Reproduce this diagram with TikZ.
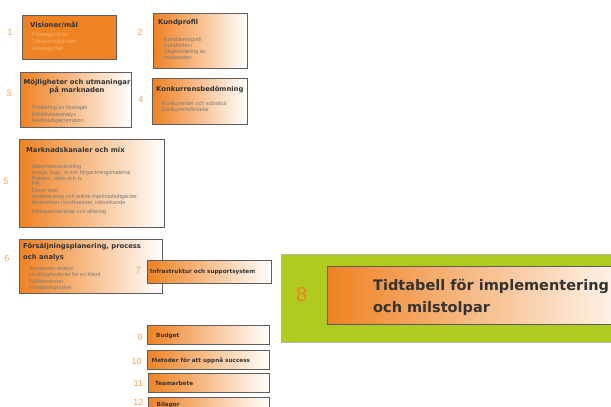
\documentclass[tikz,border=0pt]{standalone}
\usepackage{fontspec}
\setmainfont{Liberation Sans}
\newfontfamily\titlefont{DejaVu Sans}
\usetikzlibrary{positioning}

\definecolor{orng}{HTML}{EF8222}
\definecolor{numorng}{HTML}{F5A455}
\definecolor{peach}{HTML}{F7B77A}
\definecolor{grn}{HTML}{B0CB1F}
\definecolor{frame}{HTML}{5E5E5E}
\definecolor{ttlgray}{HTML}{333333}
\definecolor{itmgray}{HTML}{7A7A7A}

\begin{document}
\begin{tikzpicture}[x=1pt, y=-1pt,
    box/.style={draw=frame, line width=1.1pt, anchor=north west, inner sep=0pt},
    gbox/.style={box, left color=orng, right color=white},
    ttl/.style={font=\titlefont\bfseries\fontsize{6.8}{8}\selectfont, text=ttlgray, anchor=west, inner sep=0pt},
    smallttl/.style={ttl, font=\titlefont\bfseries\fontsize{5.7}{7}\selectfont},
    items/.style={font=\fontsize{5.5}{5.8}\selectfont, text=itmgray, align=left, anchor=north west, inner sep=0pt},
    num/.style={font=\fontsize{9}{9}\selectfont, text=numorng, inner sep=0pt}]
    \clip (0,0) rectangle (611,407);

    % boxes
    \node[box, fill=orng, minimum width=94pt, minimum height=44pt] (vis) at (22,15) {};
    \node[gbox, minimum width=94pt, minimum height=55pt] (kund) at (153,13) {};
    \node[gbox, minimum width=111pt, minimum height=55pt] (moj) at (20,72) {};
    \node[gbox, minimum width=95pt, minimum height=46pt] (konk) at (152,78) {};
    \node[gbox, minimum width=145pt, minimum height=88pt] (kanal) at (19,139) {};
    \node[gbox, minimum width=143pt, minimum height=54pt] (fors) at (19,239) {};
    \node[gbox, minimum width=124pt, minimum height=23pt] (infra) at (147,260) {};

    \node[box, fill=grn, draw=black!30, minimum width=350pt, minimum height=88pt] (gron) at (281,254) {};
    \node[gbox, minimum width=320pt, minimum height=58pt] (tid) at (327,266) {};

    \node[gbox, minimum width=122pt, minimum height=19pt] (budget) at (147,325) {};
    \node[gbox, minimum width=122pt, minimum height=19pt] (metod) at (147,350) {};
    \node[gbox, minimum width=121pt, minimum height=19pt] (team) at (148,373) {};
    \node[gbox, minimum width=121pt, minimum height=19pt] (bilagor) at (148,397) {};

    % titles
    \node[ttl] (visT) at (30,25) {Visioner/mål};
    \node[ttl] (kundT) at (158,22.5) {Kundprofil};
    \node[ttl, anchor=center, align=center] (mojT) at (77,87) {Möjligheter och utmaningar\\på marknaden};
    \node[ttl] (konkT) at (156,90) {Konkurrensbedömning};
    \node[ttl] (kanalT) at (26,150) {Marknadskanaler och mix};
    \node[ttl, anchor=north west, align=left, font=\titlefont\bfseries\fontsize{6.8}{11.5}\selectfont] (forsT) at (23,243) {Försäljningsplanering, process\\och analys};
    \node[smallttl] (infraT) at (150,272) {Infrastruktur och supportsystem};
    \node[smallttl] (budgetT) at (156,335.5) {Budget};
    \node[smallttl] (metodT) at (151.5,360.5) {Metoder för att uppnå success};
    \node[smallttl] (teamT) at (155,383) {Teamarbete};
    \node[smallttl] (bilagorT) at (156.5,404.5) {Bilagor};
    \node[ttl, anchor=north west, align=left, font=\titlefont\bfseries\fontsize{14.5}{21.7}\selectfont] (tidT) at (373,279) {Tidtabell för implementering\\och milstolpar};

    % items
    \node[items, text=peach, font=\fontsize{5.5}{7}\selectfont] (visI) at (32,32.5) {Företagsvision\\Tillväxtmöjligheter\\Företagsmål};
    \node[items] (kundI) at (164,37.8) {Kunddemografi\\Kundbehov\\Segmentering av\\marknaden};
    \node[items, font=\fontsize{5.5}{5}\selectfont] (mojI) at (32,105.8) {Profilering av företaget\\Effektivitetsanalys\\Marknadspenetration};
    \node[items, font=\fontsize{5.5}{6}\selectfont] (konkI) at (162,101.1) {Konkurrenter och substitut\\Konkurrensfördelar};
    \node[items, font=\fontsize{5.5}{5.7}\selectfont] (kanalI) at (31.7,164.5) {Säkerhetsutveckling\\Image, logo, id och förpackningsmaterial\\Reklam, radio och tv\\PR\\[1.5pt]
      Direct mail\\Webbstrategi och online marknadsåtgärder\\Medverkan i konferenser, nätverkande\\[3pt]Affärspartnerskap och alliering};
    \node[items, font=\fontsize{5.5}{6}\selectfont] (forsI) at (29,266.8) {Breakeven-analys\\Livslängdsvärdet för en klient\\[1pt]Raffelmönster\\Försäljningscykel};

    % numbers
    \foreach \n/\x/\y in {1/10/32, 2/140/32, 3/9/93, 4/141/99, 5/6/181, 6/7/258, 7/138.3/270,
      9/140/337, 10/136.7/361, 11/138.3/383, 12/138.3/402} {
      \node[num] (n\n) at (\x,\y) {\n};
    }
    \node[num, text=orng, font=\fontsize{20}{20}\selectfont] (n8) at (301.7,295) {8};
\end{tikzpicture}
\end{document}
